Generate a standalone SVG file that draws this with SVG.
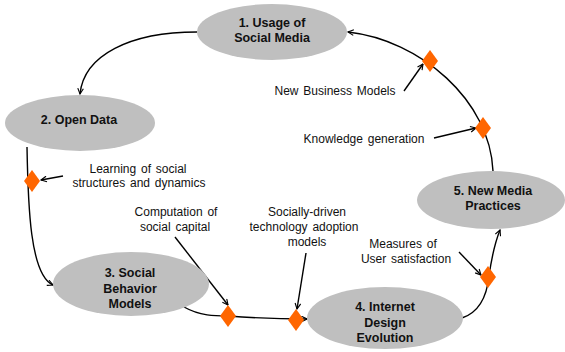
<svg xmlns="http://www.w3.org/2000/svg" width="565" height="352" viewBox="0 0 565 352">
<style>
.node{fill:#BFBFBF;stroke:none}
.nt{font-family:"Liberation Sans",Arial,sans-serif;font-weight:bold;font-size:12.5px;fill:#111;text-anchor:middle}
.lt{font-family:"Liberation Sans",Arial,sans-serif;font-size:12px;word-spacing:1.5px;fill:#111;text-anchor:middle}
.c{fill:none;stroke:#000;stroke-width:1.4;marker-end:url(#ah)}
.d{fill:#FF6600}
</style>
<defs>
<marker id="ah" viewBox="0 0 10 10" refX="9" refY="5" markerWidth="7" markerHeight="7" orient="auto" markerUnits="userSpaceOnUse">
<path d="M1,1 L9,5 L1,9" fill="none" stroke="#000" stroke-width="1.6"/>
</marker>
</defs>
<g id="connectors">
<path class="c" d="M197,32 C130,32 84,55 80,94"/>
<path class="c" d="M27,147 C28,205 30,275 53,285"/>
<path class="c" d="M184,307 C200,316 215,316 228,316 C255,318 285,319 307,319"/>
<path class="c" d="M462,318 C480,312 487,295 489,276 C492,255 496,240 500,230"/>
<path class="c" d="M493,171 C490,100 420,40 348,32"/>
<path class="c" d="M404,91 L423,64"/>
<path class="c" d="M434,138 L476,128"/>
<path class="c" d="M63,176 L41,180"/>
<path class="c" d="M175,237 L228,305"/>
<path class="c" d="M306,253 L297,309"/>
<path class="c" d="M459,252 L481,275"/>
</g>
<g id="diamonds">
<polygon class="d" points="430,50 438,61 430,72 422,61"/>
<polygon class="d" points="483,117 491,128 483,139 475,128"/>
<polygon class="d" points="32,170 40,181 32,192 24,181"/>
<polygon class="d" points="228,305 236,316 228,327 220,316"/>
<polygon class="d" points="296,309 304,320 296,331 288,320"/>
<polygon class="d" points="488,266 496,277 488,288 480,277"/>
</g>
<g id="node1">
<ellipse class="node" cx="272" cy="32" rx="75" ry="28"/>
<text class="nt" x="272" y="27">1. Usage of</text>
<text class="nt" x="272" y="42">Social Media</text>
</g>
<g id="node2">
<ellipse class="node" cx="80" cy="123" rx="75" ry="28"/>
<text class="nt" x="79" y="124">2. Open Data</text>
</g>
<g id="node3">
<ellipse class="node" cx="131" cy="284" rx="78" ry="32"/>
<text class="nt" x="130" y="277">3. Social</text>
<text class="nt" x="130" y="293">Behavior</text>
<text class="nt" x="130" y="308">Models</text>
</g>
<g id="node4">
<ellipse class="node" cx="385" cy="318" rx="78" ry="31"/>
<text class="nt" x="385" y="311">4. Internet</text>
<text class="nt" x="385" y="327">Design</text>
<text class="nt" x="385" y="342">Evolution</text>
</g>
<g id="node5">
<ellipse class="node" cx="491" cy="200" rx="74" ry="29"/>
<text class="nt" x="493" y="195">5. New Media</text>
<text class="nt" x="493" y="210">Practices</text>
</g>
<g id="labels">
<text class="lt" x="335" y="95">New Business Models</text>
<text class="lt" x="364" y="143">Knowledge generation</text>
<text class="lt" x="138" y="173">Learning of social</text>
<text class="lt" x="139" y="187">structures and dynamics</text>
<text class="lt" x="176" y="216">Computation of</text>
<text class="lt" x="175" y="231">social capital</text>
<text class="lt" x="307" y="216">Socially-driven</text>
<text class="lt" x="304" y="231">technology adoption</text>
<text class="lt" x="307" y="246">models</text>
<text class="lt" x="403" y="248">Measures of</text>
<text class="lt" x="406" y="263">User satisfaction</text>
</g>
</svg>
